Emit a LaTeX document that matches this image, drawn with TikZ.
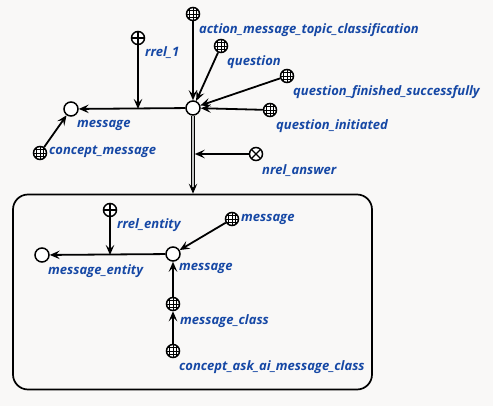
\documentclass[tikz,border=0pt]{standalone}
\usepackage{fontspec}
\setmainfont{Open Sans}
\usetikzlibrary{arrows.meta}
\definecolor{bg}{RGB}{249,248,247}
\definecolor{lbl}{RGB}{22,72,165}
\tikzset{
  every picture/.style={x=1pt,y=-1pt},
  lab/.style={anchor=west, inner sep=0pt, text=lbl, font=\fontsize{13}{15}\selectfont\bfseries\itshape},
  base/.style={circle, draw, line width=1.5pt, fill=white, inner sep=0pt, minimum size=13pt},
  vnode/.style={base, minimum size=14pt},
  gnode/.style={base, path picture={
      \foreach \d in {-3.2,0,3.2}{
        \draw[line width=0.7pt] ([xshift=\d pt]path picture bounding box.north) -- ([xshift=\d pt]path picture bounding box.south);
        \draw[line width=0.7pt] ([yshift=\d pt]path picture bounding box.west) -- ([yshift=\d pt]path picture bounding box.east);
      }}},
  pnode/.style={base, path picture={
        \draw[line width=1.1pt] (path picture bounding box.north) -- (path picture bounding box.south);
        \draw[line width=1.1pt] (path picture bounding box.west) -- (path picture bounding box.east);
      }},
  xnode/.style={base, path picture={
        \draw[line width=1.1pt] (path picture bounding box.north west) -- (path picture bounding box.south east);
        \draw[line width=1.1pt] (path picture bounding box.south west) -- (path picture bounding box.north east);
      }},
  arr/.style={line width=1.8pt, -{Stealth[length=10pt,width=8.5pt,inset=4pt]}},
  dbl/.style={line width=0.9pt, double=gray!45, double distance=1.6pt, -{Stealth[length=10pt,width=8.5pt,inset=4pt]}},
  boxst/.style={draw, line width=1.7pt, rounded corners=15pt, inner sep=0pt, fill=bg}
}
\begin{document}
\begin{tikzpicture}
\fill[bg] (0,0) rectangle (493,406);
\useasboundingbox (0,0) rectangle (493,406);

% box
\node[boxst, minimum width=359pt, minimum height=195pt] (box) at (192.5,292) {};

% top part
\node[vnode] (hub) at (193,108) {};
\node[vnode] (msg) at (71,109) {};
\node[gnode] (cmsg) at (40,153) {};
\node[pnode] (rrel1) at (138,38) {};
\node[gnode] (amtc) at (193,14) {};
\node[gnode] (quest) at (221,46) {};
\node[gnode] (qfs) at (287,76) {};
\node[gnode] (qini) at (270,110) {};
\node[xnode] (nrel) at (256,154) {};

\node[lab] (lmsg) at (77,125) {message};
\node[lab] (lcmsg) at (49,152) {concept\_message};
\node[lab] (lrrel1) at (145,53) {rrel\_1};
\node[lab] (lamtc) at (199,30) {action\_message\_topic\_classification};
\node[lab] (lquest) at (227,62) {question};
\node[lab] (lqfs) at (293,92) {question\_finished\_successfully};
\node[lab] (lqini) at (276,126) {question\_initiated};
\node[lab] (lnrel) at (262,171) {nrel\_answer};

\draw[arr] (hub) -- (msg);
\coordinate (j1) at (rrel1 |- msg);
\draw[arr] (rrel1) -- (j1);
\draw[arr] (cmsg) -- (msg);
\draw[arr] (amtc) -- (hub);
\draw[arr] (quest) -- (hub);
\draw[arr] (qfs) -- (hub);
\draw[arr] (qini) -- (hub);
\coordinate (boxtop) at (hub |- box.north);
\draw[dbl] (hub) -- (boxtop);
\coordinate (j2) at (hub |- nrel);
\draw[arr] (nrel) -- ([xshift=1.8pt]j2);

% inside box
\node[vnode] (ment) at (42,255) {};
\node[vnode] (imsg) at (173,254) {};
\node[pnode] (rrent) at (110,210) {};
\node[gnode] (gmsg) at (232,219) {};
\node[gnode] (mcls) at (173,304) {};
\node[gnode] (caimc) at (173,351) {};

\node[lab] (lment) at (48,271) {message\_entity};
\node[lab] (limsg) at (179,268) {message};
\node[lab] (lrrent) at (117,225) {rrel\_entity};
\node[lab] (lgmsg) at (241,219) {message};
\node[lab] (lmcls) at (180,321) {message\_class};
\node[lab] (lcaimc) at (179,367) {concept\_ask\_ai\_message\_class};

\draw[arr] (imsg) -- (ment);
\coordinate (j3) at (rrent |- ment);
\draw[arr] (rrent) -- (j3);
\draw[arr] (gmsg) -- (imsg);
\draw[arr] (mcls) -- (imsg);
\draw[arr] (caimc) -- (mcls);
\end{tikzpicture}
\end{document}
